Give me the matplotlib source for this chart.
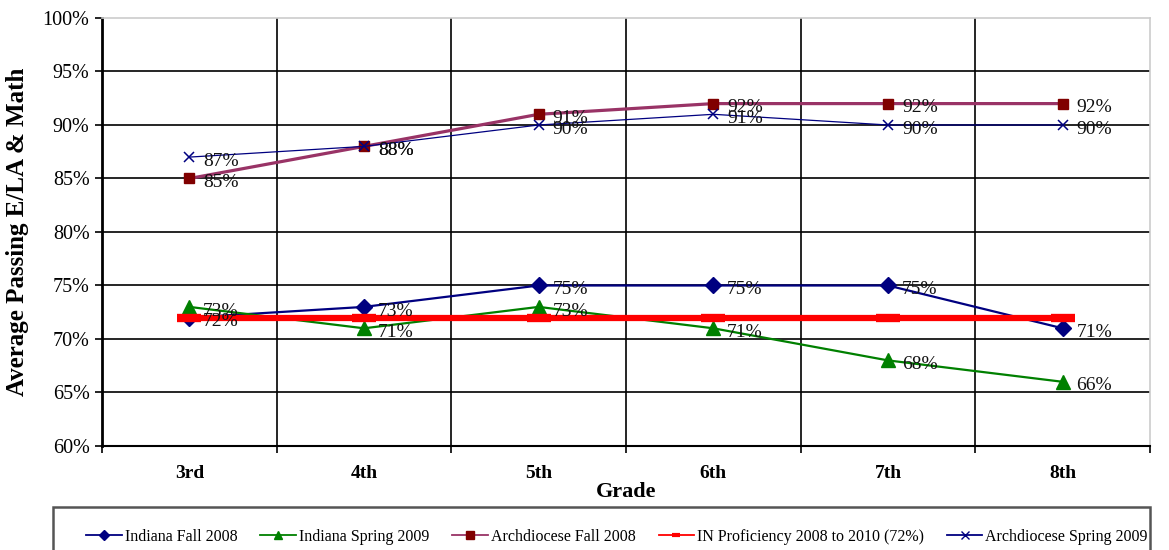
import matplotlib
matplotlib.use("Agg")
import matplotlib.pyplot as plt
from matplotlib.patches import Rectangle

plt.rcParams['font.family'] = ['Liberation Serif', 'DejaVu Serif']

# grades on the x axis
grades = ["3rd", "4th", "5th", "6th", "7th", "8th"]

# average passing E/LA & Math (%)
indiana_fall_2008 = [72, 73, 75, 75, 75, 71]
indiana_spring_2009 = [73, 71, 73, 71, 68, 66]
archdiocese_fall_2008 = [85, 88, 91, 92, 92, 92]
in_proficiency = [72, 72, 72, 72, 72, 72]
archdiocese_spring_2009 = [87, 88, 90, 91, 90, 90]

y_ticks = [60, 65, 70, 75, 80, 85, 90, 95, 100]

fig = plt.figure(figsize=(11.69, 5.5), dpi=100)
ax = fig.add_axes([102 / 1169, 1 - 446 / 550, 1048 / 1169, 428 / 550])

x = list(range(len(grades)))

ax.plot(x, indiana_fall_2008, color='#000080', lw=1.6, marker='D', ms=8,
        label='Indiana Fall 2008', zorder=3)
ax.plot(x, indiana_spring_2009, color='#008000', lw=1.6, marker='^', ms=10,
        label='Indiana Spring 2009', zorder=3)
ax.plot(x, archdiocese_fall_2008, color='#993366', lw=2.3, marker='s', ms=7.5,
        mfc='#800000', mec='#800000', label='Archdiocese Fall 2008', zorder=3)
ax.plot(x, in_proficiency, color='#FF0000', lw=4.5, marker='_', ms=17, mew=6,
        label='IN Proficiency 2008 to 2010 (72%)', zorder=4)
ax.plot(x, archdiocese_spring_2009, color='#000080', lw=0.9, marker='x', ms=7,
        mew=1.1, label='Archdiocese Spring 2009', zorder=5)

# data labels
for series in [indiana_fall_2008, indiana_spring_2009,
               archdiocese_fall_2008, archdiocese_spring_2009]:
    for xi, v in zip(x, series):
        ax.annotate(f"{v}%", (xi, v), xytext=(10, -3), textcoords='offset points',
                    ha='left', va='center', fontsize=14, color='#111111', zorder=6)

ax.set_xlim(-0.5, 5.5)
ax.set_ylim(60, 100)
ax.set_yticks(y_ticks)
ax.set_yticklabels([f"{t}%" for t in y_ticks], fontsize=14.5)
ax.set_xticks([i - 0.5 for i in range(len(grades) + 1)])
ax.set_xticklabels([])
ax.set_xticks(x, minor=True)
ax.set_xticklabels(grades, minor=True, fontsize=14, fontweight='bold')
ax.tick_params(axis='x', which='minor', length=0, pad=14)
ax.tick_params(axis='x', which='major', length=5, width=1.2, direction='out')
ax.tick_params(axis='y', length=5, width=1.2, direction='out', pad=4)

# grid
for t in y_ticks[1:-1]:
    ax.axhline(t, color='black', lw=1.2, zorder=1)
for i in range(1, len(grades)):
    ax.axvline(i - 0.5, color='black', lw=1.2, zorder=1)

for s in ['top', 'right']:
    ax.spines[s].set_color('#cccccc')
    ax.spines[s].set_linewidth(1.2)
ax.spines['left'].set_linewidth(2)
ax.spines['bottom'].set_linewidth(1.5)

ax.set_ylabel("Average Passing E/LA & Math", fontsize=18, fontweight='bold', labelpad=10)
ax.set_xlabel("Grade", fontsize=16, fontweight='bold', labelpad=0)

# legend box at the bottom
fig.patches.append(Rectangle((53 / 1169, -0.05), 1097 / 1169, 0.05 + 43 / 550,
                             transform=fig.transFigure, fill=False,
                             edgecolor='#555555', lw=1.8))
leg = fig.legend(loc='center left', bbox_to_anchor=(72 / 1169, 13 / 550), ncol=5,
                 frameon=False, fontsize=11.5, handlelength=2.2, columnspacing=1.45,
                 handletextpad=0.2)
for line in leg.get_lines():
    line.set_linewidth(1.3)
    line.set_markersize(5.5)
    line.set_markeredgewidth(1.0)
leg.get_lines()[3].set_markersize(6)
leg.get_lines()[3].set_markeredgewidth(3)

fig.savefig("out.png", dpi=100)
